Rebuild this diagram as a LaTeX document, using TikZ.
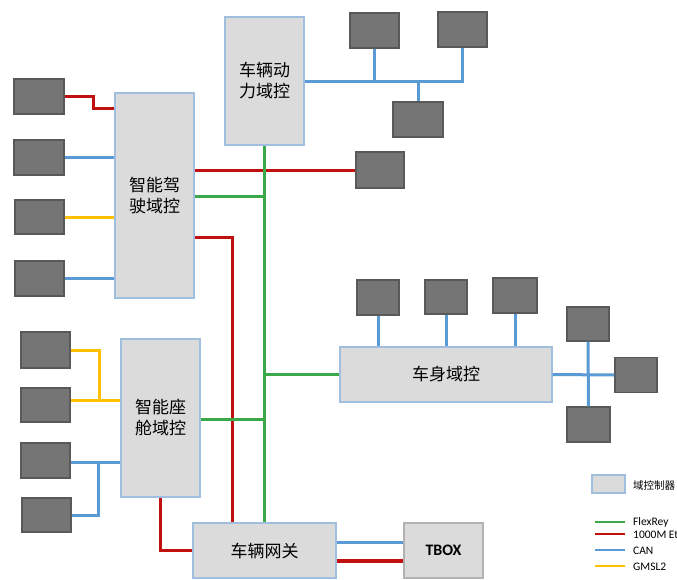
\documentclass[tikz,border=0pt]{standalone}
\usepackage{fontspec}
\setmainfont{Carlito}
\newfontfamily\cjk{Noto Sans CJK SC}
\definecolor{domborder}{RGB}{160,190,222}
\definecolor{flexc}{RGB}{59,168,74}
\definecolor{ethc}{RGB}{192,16,16}
\definecolor{canc}{RGB}{91,155,213}
\definecolor{gmslc}{RGB}{255,192,0}
\begin{document}
\begin{tikzpicture}[x=1pt,y=-1pt,
  dom/.style={draw=domborder, line width=1.2pt, fill=gray!28, inner sep=0pt, align=center,
    font=\cjk\fontsize{17}{21}\selectfont},
  ecu/.style={draw=black!65, line width=1.2pt, fill=black!54, inner sep=0pt},
  flex/.style={draw=flexc, line width=3pt},
  eth/.style={draw=ethc, line width=3pt},
  can/.style={draw=canc, line width=3pt},
  gmsl/.style={draw=gmslc, line width=3pt},
  legtxt/.style={anchor=west, inner sep=0pt, font=\fontsize{11.5}{12}\selectfont}]
\useasboundingbox (0,0) rectangle (677,579);
\fill[white] (0,0) rectangle (677,579);

% domain controllers
\node[dom, minimum width=79, minimum height=205] (adas) at (154.5,195.5) {智能驾\\驶域控};
\node[dom, minimum width=79, minimum height=128] (power) at (264.5,81) {车辆动\\力域控};
\node[dom, minimum width=79, minimum height=158] (cabin) at (160.5,418) {智能座\\舱域控};
\node[dom, minimum width=212, minimum height=55] (body) at (446,374.5) {车身域控};
\node[dom, minimum width=143, minimum height=55] (gw) at (264.5,550.5) {车辆网关};
\node[dom, draw=gray!60, minimum width=79, minimum height=55, font=\fontsize{16}{18}\selectfont\bfseries] (tbox) at (443.5,550.5) {TBOX};

% ECUs
\node[ecu, minimum width=50, minimum height=35] (a1) at (39,96.5) {};
\node[ecu, minimum width=50, minimum height=35] (a2) at (39,157.5) {};
\node[ecu, minimum width=49, minimum height=34] (a3) at (39.5,217) {};
\node[ecu, minimum width=49, minimum height=35] (a4) at (39.5,278.5) {};
\node[ecu, minimum width=49, minimum height=36] (c1) at (45.5,350) {};
\node[ecu, minimum width=49, minimum height=34] (c2) at (45.5,405) {};
\node[ecu, minimum width=49, minimum height=35] (c3) at (45.5,460.5) {};
\node[ecu, minimum width=49, minimum height=34] (c4) at (46.5,515) {};
\node[ecu, minimum width=49, minimum height=35] (p1) at (374.5,30.5) {};
\node[ecu, minimum width=49, minimum height=35] (p2) at (462.5,29.5) {};
\node[ecu, minimum width=50, minimum height=35] (p3) at (418,119.5) {};
\node[ecu, minimum width=48, minimum height=36] (p4) at (380,170) {};
\node[ecu, minimum width=42, minimum height=35] (b1) at (378,297.5) {};
\node[ecu, minimum width=42, minimum height=34] (b2) at (446,297) {};
\node[ecu, minimum width=44, minimum height=35] (b3) at (515,295.5) {};
\node[ecu, minimum width=42, minimum height=34] (b4) at (588,324) {};
\node[ecu, minimum width=42, minimum height=35] (b5) at (636,375) {};
\node[ecu, minimum width=43, minimum height=35] (b6) at (588.5,424.5) {};

% ADAS links
\draw[eth] (a1.east) -| (93,108) -- (adas.west |- 0,108);
\draw[can] (a2.east) -- (adas.west |- a2.east);
\draw[gmsl] (a3.east) -- (adas.west |- a3.east);
\draw[can] (a4.east) -- (adas.west |- a4.east);
\draw[eth] (adas.east |- p4.west) -- (p4.west);
\draw[eth] (adas.east |- 0,237) -| ([xshift=-32pt]gw.north);

% green backbone
\draw[flex] (power.south) -- (gw.north);
\draw[flex] (adas.east |- 0,196) -- (power.south |- 0,196);
\draw[flex] (cabin.east |- 0,419) -- (power.south |- 0,419);
\draw[flex] (power.south |- body.west) -- (body.west);

% cabin links
\draw[gmsl] (c1.east) -| (99,400);
\draw[gmsl] (c2.east |- 0,400) -- (cabin.west |- 0,400);
\draw[can] (c3.east |- 0,462) -- (cabin.west |- 0,462);
\draw[can] (c4.east) -| (98,462);
\draw[eth] (cabin.south) |- (gw.west);

% power links
\draw[can] (power.east) -| (p2.south);
\draw[can] (p1.south) -- (p1.south |- power.east);
\draw[can] (p3.north) -- (p3.north |- power.east);

% body links
\draw[can] (b1.south) -- (b1.south |- body.north);
\draw[can] (b2.south) -- (b2.south |- body.north);
\draw[can] (b3.south) -- (b3.south |- body.north);
\draw[can] (body.east) -- (b5.west);
\draw[can] (b4.south) -- (b6.north);

% gateway - TBOX
\draw[can] (gw.east |- 0,542) -- (tbox.west |- 0,542);
\draw[eth, line width=3.6pt] (gw.east |- 0,561) -- (tbox.west |- 0,561);

% legend
\node[dom, minimum width=33, minimum height=18] (lg0) at (608.5,484) {};
\node[legtxt, font=\cjk\fontsize{10.5}{11}\selectfont] (lt0) at (633,485) {域控制器};
\coordinate (l1a) at (595,522); \coordinate (l1b) at (625,522);
\coordinate (l2a) at (595,534); \coordinate (l2b) at (625,534);
\coordinate (l3a) at (595,550); \coordinate (l3b) at (625,550);
\coordinate (l4a) at (595,566); \coordinate (l4b) at (625,566);
\draw[flex, line width=2.4pt] (l1a) -- (l1b);
\draw[eth, line width=2.4pt] (l2a) -- (l2b);
\draw[can, line width=2.4pt] (l3a) -- (l3b);
\draw[gmsl, line width=2.4pt] (l4a) -- (l4b);
\node[legtxt] (lt1) at (633,522) {FlexRey};
\node[legtxt] (lt2) at (633,535) {1000M Et};
\node[legtxt] (lt3) at (633,551) {CAN};
\node[legtxt] (lt4) at (633,567) {GMSL2};
\end{tikzpicture}
\end{document}
